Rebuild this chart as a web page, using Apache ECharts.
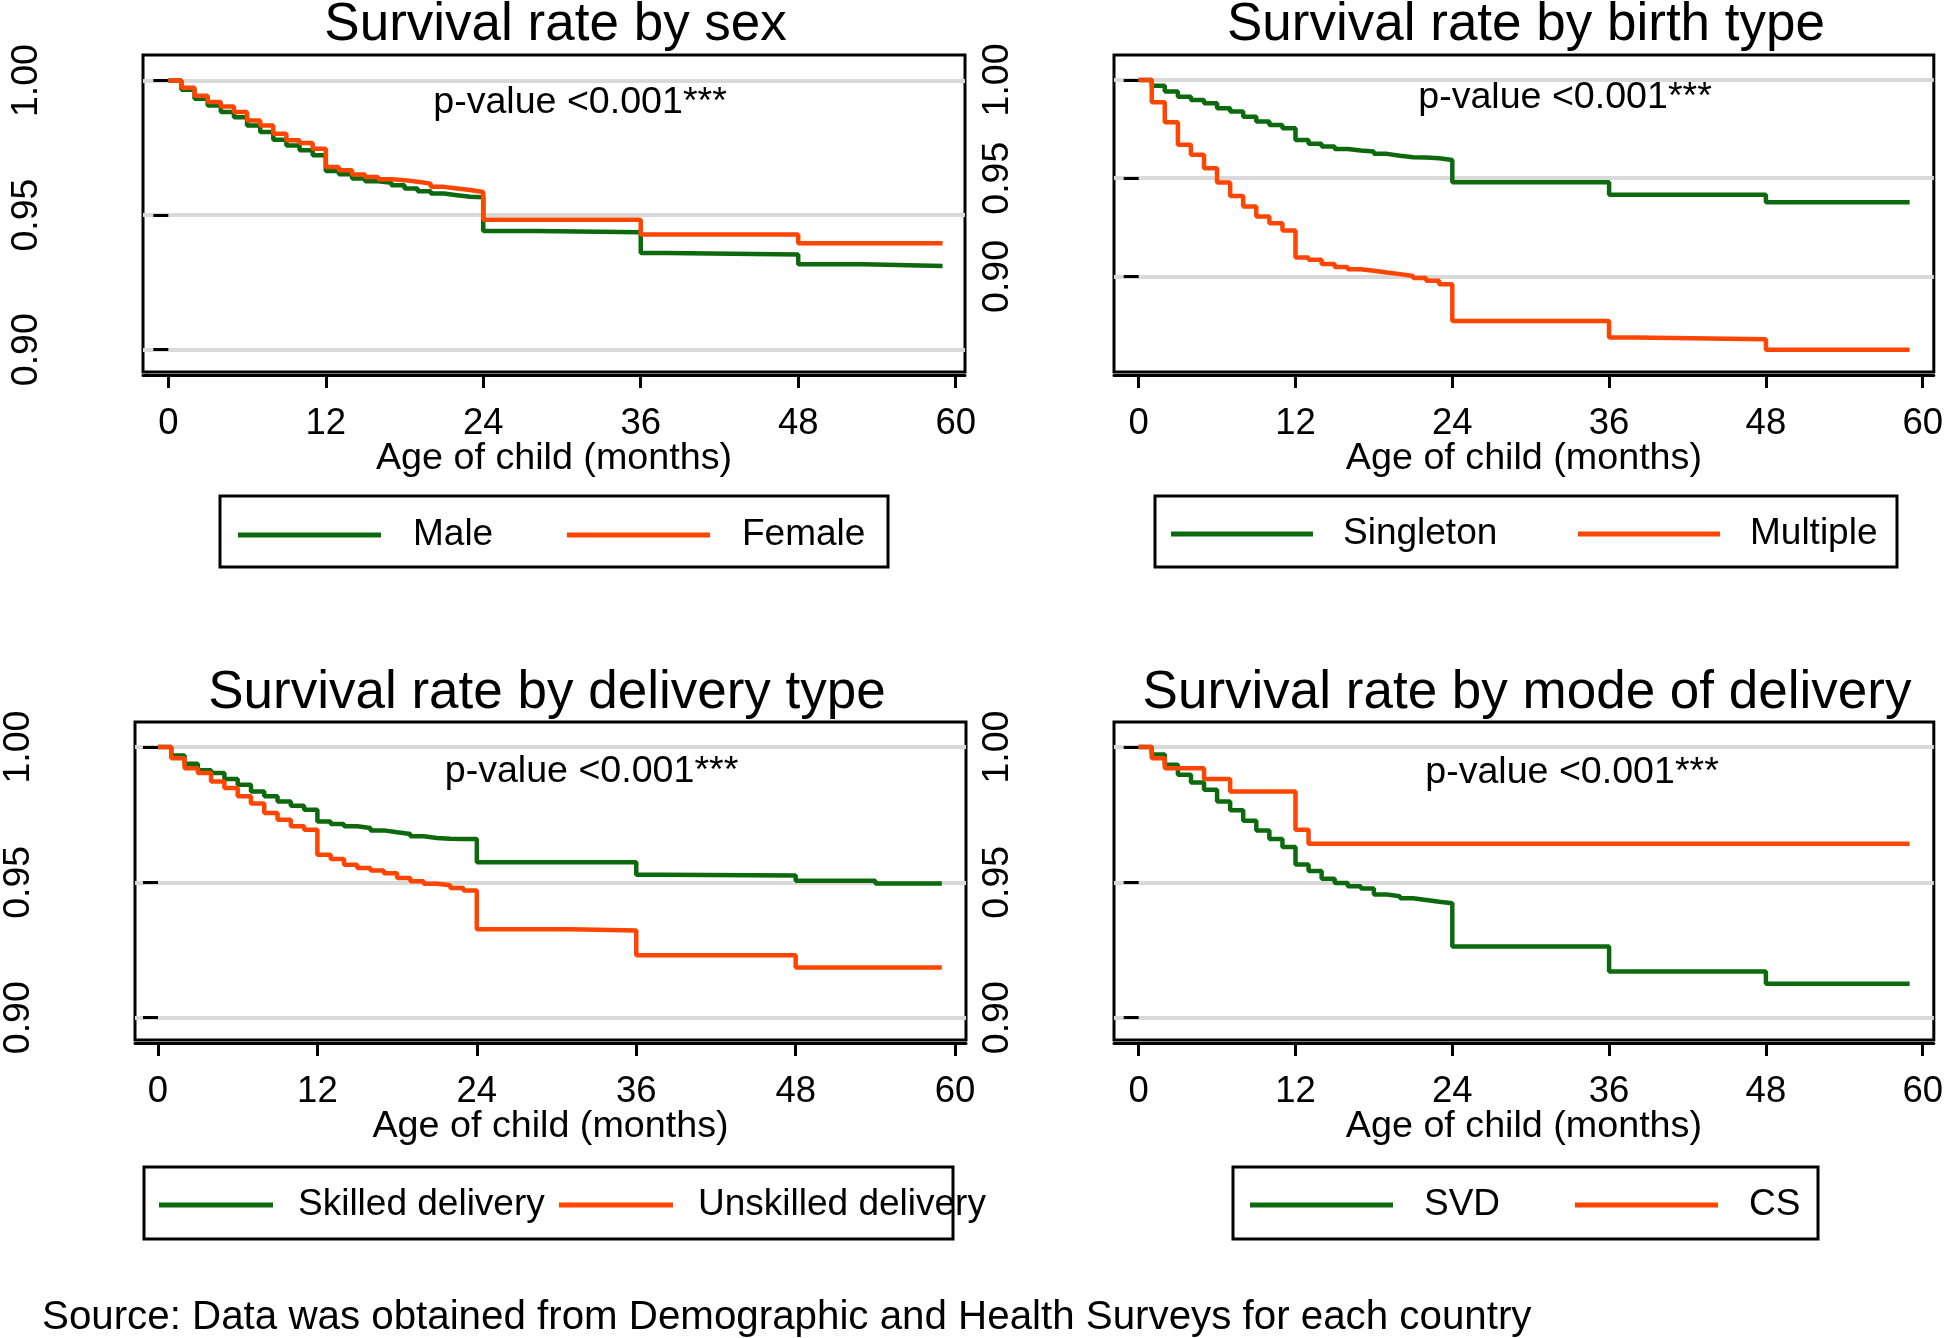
<!DOCTYPE html>
<html><head><meta charset="utf-8">
<script src="https://cdn.jsdelivr.net/npm/echarts@6/dist/echarts.min.js"></script>
<style>html,body{margin:0;padding:0;background:#fff}#c{width:1946px;height:1338px}</style>
</head><body><div id="c"></div>
<script>
// ---- tick labels ----
const xTicks = [0, 12, 24, 36, 48, 60];
const yTicks = [0.90, 0.95, 1.00];

// ---- panel 1: sex ----
const maleT = [0,1,2,3,4,5,6,7,8,9,10,11,12,13,14,15,16,17,18,19,20,21,22,23,24,28,36,38,48,53,59];
const maleS = [1.0000,0.9966,0.9932,0.9907,0.9883,0.9864,0.9833,0.9809,0.9780,0.9759,0.9741,0.9722,0.9664,0.9652,0.9636,0.9626,0.9620,0.9611,0.9599,0.9589,0.9580,0.9574,0.9568,0.9566,0.9441,0.9436,0.9359,0.9354,0.9317,0.9311,0.9311];
const femaleT = [0,1,2,3,4,5,6,7,8,9,10,11,12,13,14,15,16,17,18,19,20,21,22,23,24,36,48,59];
const femaleS = [1.0000,0.9973,0.9944,0.9920,0.9904,0.9883,0.9852,0.9833,0.9802,0.9778,0.9768,0.9747,0.9679,0.9667,0.9651,0.9642,0.9633,0.9630,0.9624,0.9617,0.9605,0.9599,0.9593,0.9586,0.9483,0.9428,0.9395,0.9395];

// ---- panel 2: birth type ----
const singletonT = [0,1,2,3,4,5,6,7,8,9,10,11,12,13,14,15,16,17,18,19,20,21,22,23,24,36,48,59];
const singletonS = [1.0000,0.9971,0.9941,0.9915,0.9898,0.9881,0.9856,0.9839,0.9813,0.9788,0.9771,0.9754,0.9695,0.9675,0.9661,0.9649,0.9641,0.9636,0.9624,0.9614,0.9607,0.9605,0.9602,0.9593,0.9479,0.9416,0.9378,0.9378];
const multipleT = [0,1,2,3,4,5,6,7,8,9,10,11,12,13,14,15,16,17,18,19,20,21,22,23,24,36,38,48,59];
const multipleS = [1.0000,0.9887,0.9785,0.9670,0.9619,0.9551,0.9478,0.9410,0.9356,0.9305,0.9271,0.9234,0.9097,0.9085,0.9063,0.9048,0.9037,0.9029,0.9020,0.9012,0.9003,0.8992,0.8978,0.8961,0.8773,0.8690,0.8681,0.8627,0.8627];

// ---- panel 3: delivery type ----
const skilledT = [0,1,2,3,4,5,6,7,8,9,10,11,12,13,14,15,16,17,18,19,20,21,22,23,24,36,38,48,54,59];
const skilledS = [1.0000,0.9969,0.9938,0.9914,0.9904,0.9882,0.9861,0.9836,0.9818,0.9799,0.9783,0.9768,0.9725,0.9716,0.9707,0.9701,0.9692,0.9685,0.9679,0.9670,0.9664,0.9661,0.9660,0.9660,0.9574,0.9528,0.9525,0.9506,0.9496,0.9496];
const unskilledT = [0,1,2,3,4,5,6,7,8,9,10,11,12,13,14,15,16,17,18,19,20,21,22,23,24,31,36,48,59];
const unskilledS = [1.0000,0.9959,0.9922,0.9904,0.9873,0.9849,0.9818,0.9791,0.9756,0.9731,0.9707,0.9694,0.9602,0.9586,0.9565,0.9553,0.9544,0.9534,0.9516,0.9504,0.9495,0.9489,0.9479,0.9470,0.9327,0.9322,0.9231,0.9185,0.9185];

// ---- panel 4: mode of delivery ----
const svdT = [0,1,2,3,4,5,6,7,8,9,10,11,12,13,14,15,16,17,18,19,20,21,22,23,24,36,48,59];
const svdS = [1.0000,0.9972,0.9935,0.9898,0.9869,0.9842,0.9799,0.9766,0.9728,0.9692,0.9660,0.9631,0.9566,0.9542,0.9513,0.9498,0.9486,0.9477,0.9455,0.9449,0.9441,0.9435,0.9428,0.9423,0.9263,0.9171,0.9125,0.9125];
const csT = [0,1,2,5,7,12,13,59];
const csS = [1.0000,0.9959,0.9922,0.9882,0.9836,0.9694,0.9643,0.9643];

const titles = ['Survival rate by sex','Survival rate by birth type','Survival rate by delivery type','Survival rate by mode of delivery'];
const pText = 'p-value <0.001***';
const xName = 'Age of child (months)';
const sourceText = 'Source: Data was obtained from Demographic and Health Surveys for each country';

const FONT = '"Liberation Sans", Arial, Helvetica, sans-serif';
const GREEN = '#0d690d', ORANGE = '#ff4500';

const panels = [
  {grid:{left:143,top:55,width:822,height:317}, x:[-1.93,60.71], y:[0.8917,1.0095],
   series:[['Male',maleT,maleS,GREEN],['Female',femaleT,femaleS,ORANGE]],
   title:[555.6,25], p:[580,102.5],
   box:[220,496,668,71], leg:{left:238,lineY:534,iw:143,pad:27,tw:154}},
  {grid:{left:1114,top:55,width:822,height:317}, x:[-1.89,60.85], y:[0.8514,1.0127],
   series:[['Singleton',singletonT,singletonS,GREEN],['Multiple',multipleT,multipleS,ORANGE]],
   title:[1526,25], p:[1565,98],
   box:[1155,496,742,71], leg:{left:1171,lineY:533,iw:142,pad:25,tw:235}},
  {grid:{left:130,top:722,width:836,height:318}, x:[-1.73,60.82], y:[0.89175,1.00925],
   series:[['Skilled delivery',skilledT,skilledS,GREEN],['Unskilled delivery',unskilledT,unskilledS,ORANGE]],
   title:[547,693.5], p:[591.5,771.5],
   box:[144,1167,809,72], leg:{left:159,lineY:1204,iw:114,pad:20,tw:261}},
  {grid:{left:1114,top:722,width:822,height:318}, x:[-1.89,60.85], y:[0.89175,1.00925],
   series:[['SVD',svdT,svdS,GREEN],['CS',csT,csS,ORANGE]],
   title:[1527,693.5], p:[1572,773],
   box:[1233,1167,585,72], leg:{left:1250,lineY:1204,iw:143,pad:26,tw:151}}
];

const option = {animation:false, backgroundColor:'#fff', grid:[], xAxis:[], yAxis:[], series:[], legend:[], graphic:[]};

panels.forEach((p, i) => {
  option.grid.push(Object.assign({show:true, borderColor:'#000', borderWidth:3, backgroundColor:'transparent'}, p.grid));
  option.xAxis.push({
    type:'value', gridIndex:i, min:p.x[0], max:p.x[1], offset:3,
    axisLine:{show:true, onZero:false, lineStyle:{color:'#000', width:3}},
    axisTick:{show:true, length:13, customValues:xTicks, lineStyle:{color:'#000', width:3}},
    axisLabel:{customValues:xTicks, margin:30, fontSize:36.5, color:'#000', fontFamily:FONT},
    splitLine:{show:false},
    name:xName, nameLocation:'middle', nameGap:65, nameMoveOverlap:false,
    nameTextStyle:{fontSize:37.7, color:'#000', fontFamily:FONT}
  });
  option.yAxis.push({
    type:'value', gridIndex:i, min:p.y[0], max:p.y[1],
    axisLine:{show:false},
    axisTick:{show:true, length:15, customValues:yTicks, lineStyle:{color:'#000', width:3}},
    axisLabel:{customValues:yTicks, rotate:90, margin:97, fontSize:37.5, color:'#000', fontFamily:FONT,
      formatter:v => v.toFixed(2)},
    splitLine:{show:true, lineStyle:{color:'#d9d9d9', width:4}}
  });
  p.series.forEach(([name, T, S, color]) => {
    option.series.push({
      name, type:'line', step:'end', xAxisIndex:i, yAxisIndex:i,
      data:T.map((t, k) => [t, S[k]]),
      showSymbol:false, symbol:'none', color,
      lineStyle:{color, width:4.5}
    });
  });
  const L = p.leg;
  option.legend.push({
    data:p.series.map(s => s[0]), left:L.left, top:L.lineY - 20, padding:0, width:1200,
    orient:'horizontal', icon:'rect', itemWidth:L.iw, itemHeight:5, itemGap:0,
    selectedMode:false,
    textStyle:{fontSize:37, color:'#000', fontFamily:FONT, lineHeight:40,
      width:L.tw, overflow:'none', padding:[2,0,0,L.pad]}
  });
  option.graphic.push({type:'rect', silent:true, z:1,
    shape:{x:p.box[0], y:p.box[1], width:p.box[2], height:p.box[3]},
    style:{fill:'none', stroke:'#000', lineWidth:3}});
  option.graphic.push({type:'text', silent:true, x:p.title[0], y:p.title[1],
    style:{text:titles[i], fill:'#000', fontSize:53, fontFamily:FONT, align:'center', verticalAlign:'middle'}});
  option.graphic.push({type:'text', silent:true, x:p.p[0], y:p.p[1],
    style:{text:pText, fill:'#000', fontSize:37.6, fontFamily:FONT, align:'center', verticalAlign:'middle'}});
});
option.graphic.push({type:'text', silent:true, x:42, y:1318,
  style:{text:sourceText, fill:'#000', fontSize:40.3, fontFamily:FONT, align:'left', verticalAlign:'middle'}});

const chart = echarts.init(document.getElementById('c'), null, {renderer:'canvas'});
chart.setOption(option);
</script></body></html>
